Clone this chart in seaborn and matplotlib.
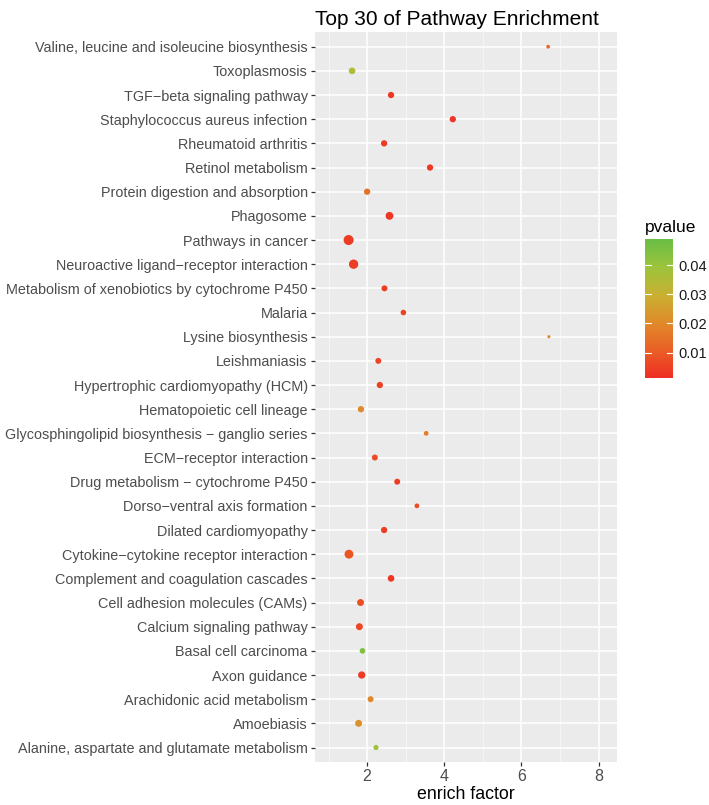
import pandas as pd
import seaborn as sns
import matplotlib.pyplot as plt
import numpy as np
from matplotlib.colors import LinearSegmentedColormap, Normalize
from matplotlib.ticker import MultipleLocator

# pathways, listed bottom to top
pathways = [
    'Alanine, aspartate and glutamate metabolism',
    'Amoebiasis',
    'Arachidonic acid metabolism',
    'Axon guidance',
    'Basal cell carcinoma',
    'Calcium signaling pathway',
    'Cell adhesion molecules (CAMs)',
    'Complement and coagulation cascades',
    'Cytokine\u2212cytokine receptor interaction',
    'Dilated cardiomyopathy',
    'Dorso\u2212ventral axis formation',
    'Drug metabolism \u2212 cytochrome P450',
    'ECM\u2212receptor interaction',
    'Glycosphingolipid biosynthesis \u2212 ganglio series',
    'Hematopoietic cell lineage',
    'Hypertrophic cardiomyopathy (HCM)',
    'Leishmaniasis',
    'Lysine biosynthesis',
    'Malaria',
    'Metabolism of xenobiotics by cytochrome P450',
    'Neuroactive ligand\u2212receptor interaction',
    'Pathways in cancer',
    'Phagosome',
    'Protein digestion and absorption',
    'Retinol metabolism',
    'Rheumatoid arthritis',
    'Staphylococcus aureus infection',
    'TGF\u2212beta signaling pathway',
    'Toxoplasmosis',
    'Valine, leucine and isoleucine biosynthesis',
]
enrich = [2.23, 1.78, 2.09, 1.86, 1.88, 1.80, 1.83, 2.62, 1.53, 2.44,
          3.29, 2.78, 2.20, 3.53, 1.84, 2.33, 2.29, 6.71, 2.94, 2.45,
          1.65, 1.52, 2.58, 2.00, 3.63, 2.44, 4.22, 2.62, 1.61, 6.69]
pvalue = [0.038, 0.022, 0.020, 0.004, 0.045, 0.006, 0.008, 0.003, 0.009, 0.004,
          0.007, 0.004, 0.007, 0.017, 0.020, 0.005, 0.006, 0.020, 0.005, 0.004,
          0.004, 0.004, 0.003, 0.015, 0.003, 0.004, 0.003, 0.003, 0.035, 0.012]
genes = [5, 10, 7, 11, 6, 10, 10, 9, 17, 8,
         4, 7, 7, 4, 8, 8, 7, 1, 6, 7,
         19, 22, 13, 8, 8, 8, 8, 8, 9, 2]

df = pd.DataFrame({'pathway': pathways, 'enrich': enrich,
                   'pvalue': pvalue, 'genes': genes})

cmap = LinearSegmentedColormap.from_list(
    'pv', ['#EE2D24', '#EA5F25', '#E08A2A', '#C9B032', '#9CC43B', '#6ABD45'])
norm = Normalize(vmin=0.0011, vmax=0.049)

plt.rcParams['font.family'] = ['Liberation Sans', 'DejaVu Sans']
fig = plt.figure(figsize=(7.09, 8.05), dpi=100)
ax = fig.add_axes([0.4443, 0.0534, 0.4257, 0.9066])
ax.set_facecolor('#EBEBEB')

sns.scatterplot(data=df, x='enrich', y='pathway', hue='pvalue', size='genes',
                palette=cmap, hue_norm=norm, sizes=(5, 52), size_norm=(1, 22),
                linewidth=0, legend=False, ax=ax, zorder=3)

ax.set_xlim(0.65, 8.47)
ax.set_ylim(-0.6, len(pathways) - 0.4)
ax.xaxis.set_major_locator(MultipleLocator(2))
ax.xaxis.set_minor_locator(MultipleLocator(1))
ax.grid(which='major', color='white', linewidth=1.1, zorder=0)
ax.grid(which='minor', axis='x', color='#F7F7F7', linewidth=0.55, zorder=0)
ax.set_axisbelow(True)
for s in ax.spines.values():
    s.set_visible(False)
ax.tick_params(which='major', length=2.8, width=0.9, color='#333333',
               labelcolor='#4D4D4D', pad=2.5)
ax.tick_params(axis='y', labelsize=10.4)
ax.tick_params(axis='x', labelsize=11.5)
ax.tick_params(which='minor', length=0)
ax.set_xlabel('enrich factor', fontsize=12.8, color='black', labelpad=1)
ax.set_ylabel('')
ax.set_title('Top 30 of Pathway Enrichment', fontsize=15, loc='left',
             x=0.0, pad=5)

# colour bar legend
cax = fig.add_axes([0.910, 0.530, 0.039, 0.1727])
cb = fig.colorbar(plt.cm.ScalarMappable(norm=norm, cmap=cmap), cax=cax)
cb.outline.set_visible(False)
cb.set_ticks([0.01, 0.02, 0.03, 0.04])
cb.ax.tick_params(length=0, labelsize=10.5, labelcolor='#1A1A1A', pad=4)
for t in [0.01, 0.02, 0.03, 0.04]:
    cax.plot([0, 0.2], [t, t], color='white', lw=0.8, transform=cax.get_yaxis_transform())
    cax.plot([0.8, 1], [t, t], color='white', lw=0.8, transform=cax.get_yaxis_transform())
fig.text(0.910, 0.708, 'pvalue', fontsize=12.5, ha='left', va='bottom')

fig.savefig('out.png', dpi=100)
